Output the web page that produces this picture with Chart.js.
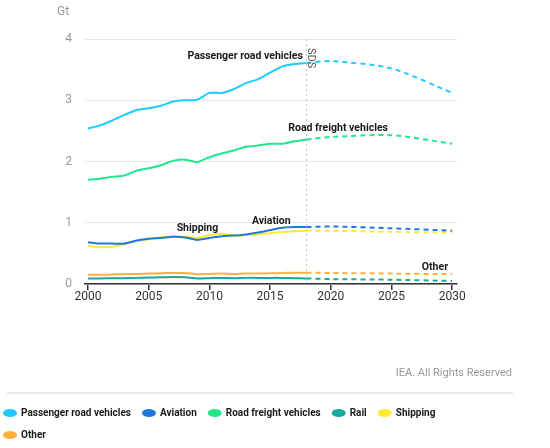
<!DOCTYPE html>
<html>
<head>
<meta charset="utf-8">
<script src="https://cdn.jsdelivr.net/npm/chart.js@4.4.1/dist/chart.umd.min.js"></script>
<style>
html, body { margin: 0; padding: 0; background: #fff; }
#wrap { width: 550px; height: 448px; }
</style>
</head>
<body>
<div id="wrap"><canvas id="chart"></canvas></div>
<script>
// historic years and SDS projection years
const years = [2000, 2001, 2002, 2003, 2004, 2005, 2006, 2007, 2008, 2009, 2010, 2011, 2012, 2013, 2014, 2015, 2016, 2017, 2018];
const projYears = [2018, 2020, 2025, 2030];
const xTicks = [2000, 2005, 2010, 2015, 2020, 2025, 2030];

// Gt CO2
const passenger = [2.54, 2.59, 2.67, 2.76, 2.84, 2.87, 2.91, 2.98, 3.00, 3.01, 3.12, 3.12, 3.18, 3.28, 3.34, 3.45, 3.55, 3.59, 3.61];
const passengerProj = [3.61, 3.64, 3.52, 3.12];
const aviation = [0.68, 0.66, 0.66, 0.66, 0.71, 0.74, 0.75, 0.77, 0.76, 0.72, 0.75, 0.78, 0.79, 0.81, 0.84, 0.88, 0.92, 0.93, 0.93];
const aviationProj = [0.93, 0.94, 0.91, 0.87];
const freight = [1.70, 1.72, 1.75, 1.77, 1.85, 1.89, 1.94, 2.01, 2.03, 1.99, 2.07, 2.13, 2.18, 2.24, 2.26, 2.29, 2.29, 2.33, 2.36];
const freightProj = [2.36, 2.40, 2.43, 2.29];
const rail = [0.09, 0.09, 0.095, 0.095, 0.10, 0.105, 0.11, 0.115, 0.11, 0.09, 0.095, 0.10, 0.095, 0.10, 0.10, 0.10, 0.10, 0.095, 0.09];
const railProj = [0.09, 0.08, 0.07, 0.05];
const shipping = [0.62, 0.60, 0.61, 0.65, 0.70, 0.73, 0.76, 0.78, 0.77, 0.75, 0.80, 0.82, 0.79, 0.80, 0.81, 0.83, 0.85, 0.86, 0.87];
const shippingProj = [0.87, 0.87, 0.85, 0.84];
const other = [0.15, 0.15, 0.155, 0.16, 0.165, 0.17, 0.175, 0.18, 0.18, 0.16, 0.165, 0.17, 0.165, 0.17, 0.17, 0.175, 0.18, 0.185, 0.185];
const otherProj = [0.185, 0.18, 0.17, 0.16];

const FONT = 'Roboto, "Liberation Sans", sans-serif';

function pts(xs, ys) {
    return xs.map((x, i) => ({ x: x, y: ys[i] }));
}

function series(label, color, hist, proj) {
    return [{
        label: label,
        data: pts(years, hist),
        borderColor: color,
        backgroundColor: color,
        borderWidth: 2,
        pointRadius: 0,
        tension: 0.2,
        fill: false
    }, {
        label: label + ' (SDS)',
        isProj: true,
        data: pts(projYears, proj),
        borderColor: color,
        backgroundColor: color,
        borderWidth: 2,
        borderDash: [5, 4],
        pointRadius: 0,
        tension: 0.25,
        fill: false
    }];
}

const notes = [
    { text: 'Passenger road vehicles', x: 2017.7, y: 3.72, align: 'right' },
    { text: 'Road freight vehicles', x: 2016.5, y: 2.54, align: 'left' },
    { text: 'Shipping', x: 2007.3, y: 0.91, align: 'left' },
    { text: 'Aviation', x: 2013.5, y: 1.03, align: 'left' },
    { text: 'Other', x: 2027.5, y: 0.27, align: 'left' }
];

const extras = {
    id: 'extras',
    beforeDatasetsDraw(chart) {
        const { ctx, chartArea: a, scales: { x } } = chart;
        const px = x.getPixelForValue(2018);
        ctx.save();
        ctx.strokeStyle = '#c4c4c4';
        ctx.lineWidth = 1;
        ctx.setLineDash([2, 3]);
        ctx.beginPath();
        ctx.moveTo(px, a.top);
        ctx.lineTo(px, a.bottom);
        ctx.stroke();
        ctx.restore();
    },
    afterDraw(chart) {
        const { ctx, chartArea: a, scales: { x, y } } = chart;
        ctx.save();
        // axis unit
        ctx.fillStyle = '#999';
        ctx.font = '12px ' + FONT;
        ctx.textAlign = 'left';
        ctx.textBaseline = 'middle';
        ctx.fillText('Gt', a.left - 28, a.top - 27);

        // SDS marker label
        ctx.save();
        ctx.translate(x.getPixelForValue(2018) + 4, a.top + 9);
        ctx.rotate(Math.PI / 2);
        ctx.fillStyle = '#555';
        ctx.font = '11px ' + FONT;
        ctx.textBaseline = 'middle';
        ctx.fillText('SDS', 0, 0);
        ctx.restore();

        // series annotations
        ctx.fillStyle = '#1a1a1a';
        ctx.font = 'bold 10.5px ' + FONT;
        ctx.textBaseline = 'middle';
        notes.forEach(n => {
            ctx.textAlign = n.align;
            ctx.fillText(n.text, x.getPixelForValue(n.x), y.getPixelForValue(n.y));
        });

        // credit and footer rule
        ctx.fillStyle = '#999';
        ctx.font = '11px ' + FONT;
        ctx.textAlign = 'right';
        ctx.fillText('IEA. All Rights Reserved', 512, 373);
        ctx.strokeStyle = '#ebebeb';
        ctx.lineWidth = 2;
        ctx.beginPath();
        ctx.moveTo(7, 393);
        ctx.lineTo(513, 393);
        ctx.stroke();
        ctx.restore();
    }
};

const datasets = [].concat(
    series('Passenger road vehicles', '#1ecbff', passenger, passengerProj),
    series('Aviation', '#1f78dc', aviation, aviationProj),
    series('Road freight vehicles', '#20e68c', freight, freightProj),
    series('Rail', '#17a99a', rail, railProj),
    series('Shipping', '#ffe933', shipping, shippingProj),
    series('Other', '#ffb13d', other, otherProj)
);

new Chart(document.getElementById('chart'), {
    type: 'line',
    data: { datasets: datasets },
    options: {
        responsive: true,
        maintainAspectRatio: false,
        animation: false,
        layout: { padding: { top: 39, right: 93, left: -8, bottom: -2 } },
        plugins: {
            tooltip: { enabled: false },
            legend: {
                position: 'bottom',
                align: 'start',
                // blank title only reserves the space for the credit line
                title: {
                    display: true,
                    text: ' ',
                    font: { family: FONT, size: 11 },
                    padding: { top: 40, bottom: 31.8 }
                },
                labels: {
                    usePointStyle: true,
                    pointStyle: 'circle',
                    pointStyleWidth: 12,
                    boxHeight: 4.24,
                    padding: 12,
                    color: '#1a1a1a',
                    font: { family: FONT, size: 10, weight: 'bold' },
                    filter: (item, data) => !data.datasets[item.datasetIndex].isProj
                }
            }
        },
        scales: {
            x: {
                type: 'linear',
                min: 1999.75,
                max: 2030.4,
                afterBuildTicks: s => { s.ticks = xTicks.map(v => ({ value: v })); },
                grid: { drawOnChartArea: false, drawTicks: true, tickLength: 6, color: '#333', lineWidth: 1.5 },
                border: { display: true, color: '#333', width: 1.5 },
                ticks: { color: '#333', font: { family: FONT, size: 12 }, padding: 0, callback: v => String(v) },
                afterFit: s => { s.height = 27; }
            },
            y: {
                min: 0,
                max: 4,
                ticks: { stepSize: 1, color: '#999', font: { family: FONT, size: 12 }, padding: 13 },
                grid: { color: '#e8e8e8', drawTicks: false },
                border: { display: false },
                afterFit: s => { s.width = 93; }
            }
        }
    },
    plugins: [extras]
});
</script>
</body>
</html>
